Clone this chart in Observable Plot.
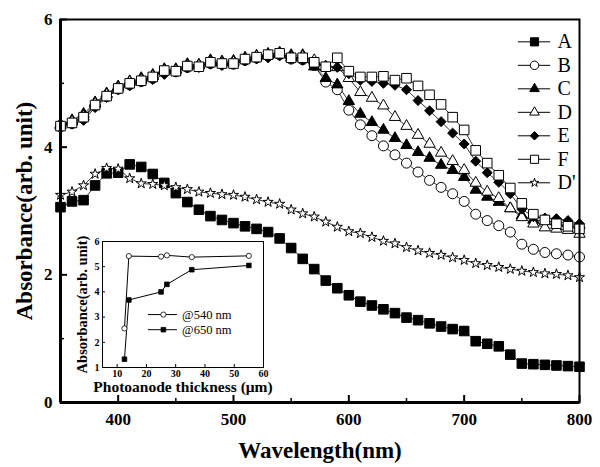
<!DOCTYPE html>
<html><head><meta charset="utf-8">
<script src="https://cdn.jsdelivr.net/npm/d3@7"></script>
<script src="https://cdn.jsdelivr.net/npm/@observablehq/plot@0.6"></script>
<style>
body{margin:0;background:#fff}
#wrap{position:relative;width:600px;height:467px;overflow:hidden;background:#fff}
#inset{position:absolute;left:75px;top:235px}
#wrap svg, #wrap svg text{font-family:"Liberation Serif","DejaVu Serif",serif !important}
</style></head><body><div id="wrap"></div>
<script>
// ---------- data ----------
const wavelengths = [350,360,370,380,390,400,410,420,430,440,450,460,470,480,490,500,510,520,530,540,550,560,570,580,590,600,610,620,630,640,650,660,670,680,690,700,710,720,730,740,750,760,770,780,790,800];
const seriesNames = ["A","B","C","D","E","F","D'"];
const absA = [3.06,3.15,3.17,3.40,3.59,3.60,3.73,3.69,3.58,3.44, 3.28,3.14,3.02,2.92,2.86,2.81,2.76,2.72,2.67,2.57, 2.42,2.25,2.09,1.91,1.79,1.68,1.58,1.52,1.46,1.40, 1.33,1.29,1.24,1.19,1.15,1.12,0.96,0.92,0.88,0.75, 0.61,0.60,0.59,0.58,0.57,0.56];
const absB = [4.32,4.37,4.45,4.65,4.79,4.91,4.98,5.03,5.08,5.18, 5.18,5.25,5.26,5.31,5.30,5.30,5.36,5.40,5.43,5.45, 5.38,5.37,5.28,5.02,4.90,4.58,4.35,4.18,4.02,3.88, 3.75,3.61,3.48,3.37,3.27,3.15,2.95,2.85,2.77,2.67, 2.48,2.40,2.35,2.33,2.31,2.28];
const absC = [4.36,4.42,4.52,4.70,4.84,4.95,5.03,5.08,5.13,5.22, 5.22,5.30,5.29,5.36,5.34,5.35,5.40,5.43,5.46,5.48, 5.44,5.44,5.26,5.08,4.98,4.72,4.52,4.39,4.27,4.14, 4.03,3.92,3.83,3.72,3.64,3.53,3.33,3.22,3.14,3.04, 2.93,2.86,2.84,2.83,2.81,2.78];
const absD = [4.34,4.40,4.48,4.68,4.82,4.93,5.02,5.05,5.11,5.20, 5.20,5.27,5.28,5.33,5.32,5.33,5.38,5.42,5.44,5.46, 5.40,5.42,5.36,5.25,5.25,5.08,4.86,4.77,4.65,4.47, 4.33,4.19,4.05,3.91,3.78,3.64,3.44,3.30,3.20,3.04, 2.90,2.80,2.74,2.72,2.70,2.64];
const absE = [4.30,4.36,4.42,4.62,4.78,4.90,4.96,5.02,5.06,5.14, 5.18,5.24,5.25,5.30,5.28,5.30,5.35,5.38,5.40,5.43, 5.38,5.36,5.30,5.28,5.25,5.15,5.05,5.03,5.00,4.97, 4.90,4.73,4.57,4.40,4.22,4.05,3.78,3.60,3.45,3.27, 3.03,2.91,2.89,2.88,2.85,2.80];
const absF = [4.33,4.38,4.47,4.66,4.80,4.92,5.00,5.04,5.10,5.20, 5.19,5.27,5.26,5.33,5.31,5.31,5.38,5.41,5.45,5.47, 5.40,5.40,5.33,5.26,5.40,5.19,5.10,5.10,5.11,5.05, 5.08,4.96,4.82,4.67,4.47,4.27,3.95,3.75,3.56,3.36, 3.12,2.95,2.86,2.80,2.76,2.72];
const absDp = [3.25,3.30,3.40,3.58,3.67,3.66,3.51,3.43,3.42,3.40, 3.37,3.34,3.30,3.28,3.26,3.25,3.22,3.18,3.14,3.11, 3.02,2.96,2.91,2.83,2.75,2.68,2.65,2.59,2.53,2.49, 2.43,2.38,2.34,2.31,2.27,2.23,2.18,2.15,2.12,2.09, 2.06,2.04,2.02,2.01,1.99,1.96];
const xTicks = [400,500,600,700,800];
const xMinorTicks = [450,550,650,750];
const yTicks = [0,2,4,6];
const yMinorTicks = [1,3,5];

// inset data
const thickness = [12.5,14,25,27,35.5,55];
const abs540 = [2.55,5.42,5.40,5.45,5.38,5.43];
const abs650 = [1.33,3.68,4.00,4.30,4.88,5.05];
const insetNames = ["@540 nm","@650 nm"];
const insetXTicks = [10,20,30,40,50,60];
const insetYTicks = [1,2,3,4,5,6];

// ---------- build tables ----------
const seriesValues = {"A":absA,"B":absB,"C":absC,"D":absD,"E":absE,"F":absF,"D'":absDp};
const rows = [];
for (const s of seriesNames) seriesValues[s].forEach((v,i)=>rows.push({series:s, wl:wavelengths[i], abs:v}));

const FONT = "Liberation Serif";
const styleOf = {
  "A":{symbol:"square", fill:"#000", r:5.4},
  "B":{symbol:"circle", fill:"#fff", r:5.0},
  "C":{symbol:"triangle", fill:"#000", r:4.2},
  "D":{symbol:"triangle", fill:"#fff", r:4.2},
  "E":{symbol:"diamond2", fill:"#000", r:4.5},
  "F":{symbol:"square", fill:"#fff", r:5.4},
  "D'":{symbol:"star", fill:"#fff", r:3.2}
};
const drawOrder = ["A","D'","B","C","D","E","F"];

const W=600,H=467,mL=60,mR=21,mT=19,mB=65;
const frameW=W-mL-mR, frameH=H-mT-mB;

// legend layout (data space)
const legX1=747, legX2=775, legXm=761, legXt=781, legTop=5.65, legStep=0.368;

const marks = [
  Plot.ruleX(xTicks, {insetTop: frameH-7, stroke:"#000", strokeWidth:2}),
  Plot.ruleX(xMinorTicks, {insetTop: frameH-4, stroke:"#000", strokeWidth:1.5}),
  Plot.ruleY(yTicks, {insetRight: frameW-7, stroke:"#000", strokeWidth:2}),
  Plot.ruleY(yMinorTicks, {insetRight: frameW-4, stroke:"#000", strokeWidth:1.5}),
  Plot.axisX({ticks:xTicks, tickSize:0, tickPadding:10, tickFormat:d=>String(d), label:null, fontFamily:FONT, fontSize:17, fontWeight:"bold"}),
  Plot.axisY({ticks:yTicks, tickSize:0, tickPadding:8, tickFormat:d=>String(d), label:null, fontFamily:FONT, fontSize:17, fontWeight:"bold"}),
  Plot.line(rows, {x:"wl", y:"abs", z:"series", stroke:"#000", strokeWidth:0.8})
];
for (const s of drawOrder) {
  const st = styleOf[s];
  marks.push(Plot.dot(rows.filter(d=>d.series===s), {x:"wl", y:"abs", symbol:()=>st.symbol, r:st.r, fill:st.fill, stroke:"#000", strokeWidth:1}));
}
seriesNames.forEach((s,i)=>{
  const st = styleOf[s];
  const y = legTop - i*legStep;
  marks.push(Plot.ruleY([y], {x1:legX1, x2:legX2, stroke:"#000", strokeWidth:1}));
  marks.push(Plot.dot([s], {x:()=>legXm, y:()=>y, symbol:()=>st.symbol, r:st.r*0.85, fill:st.fill, stroke:"#000", strokeWidth:1}));
  marks.push(Plot.text([s], {x:()=>legXt, y:()=>y, text:d=>d, textAnchor:"start", fontFamily:FONT, fontSize:20, fill:"#000"}));
});
marks.push(
  Plot.frame({stroke:"#000", strokeWidth:2}),
  Plot.ruleX([350], {stroke:"#000", strokeWidth:3}),
  Plot.ruleY([0], {stroke:"#000", strokeWidth:3}),
  Plot.text(["Wavelength(nm)"], {frameAnchor:"bottom", dy:48, textAnchor:"middle", lineAnchor:"middle", fontFamily:FONT, fontSize:23, fontWeight:"bold", fill:"#000"}),
  Plot.text(["Absorbance(arb. unit)"], {frameAnchor:"left", dx:-36, rotate:-90, textAnchor:"middle", lineAnchor:"middle", fontFamily:FONT, fontSize:23, fontWeight:"bold", fill:"#000"})
);

const main = Plot.plot({
  width:W, height:H, marginLeft:mL, marginRight:mR, marginTop:mT, marginBottom:mB,
  x:{domain:[350,800]}, y:{domain:[0,6]},
  style:{fontFamily:FONT, background:"#fff", color:"#000"},
  marks
});
document.getElementById("wrap").appendChild(main);

// ---------- inset ----------
const iW=200,iH=165,imL=27,imR=12,imT=6,imB=33;
const ifW=iW-imL-imR, ifH=iH-imT-imB;
const insetRows = [];
thickness.forEach((t,i)=>{ insetRows.push({name:insetNames[0], t, a:abs540[i]}); insetRows.push({name:insetNames[1], t, a:abs650[i]}); });
const insetStyle = {"@540 nm":{symbol:"circle", fill:"#fff", r:2.6}, "@650 nm":{symbol:"square", fill:"#000", r:2.6}};
const iLegX1=20.7, iLegX2=30.6, iLegXm=25.8, iLegXt=32.2, iLegTop=3.1, iLegStep=0.6;
const imarks = [
  Plot.frame({fill:"#fff", stroke:"none"}),
  Plot.ruleX(insetXTicks, {insetTop: ifH-3, stroke:"#000", strokeWidth:1}),
  Plot.ruleY(insetYTicks, {insetRight: ifW-3, stroke:"#000", strokeWidth:1}),
  Plot.axisX({ticks:insetXTicks, tickSize:0, tickPadding:2, tickFormat:d=>String(d), label:null, fontFamily:FONT, fontSize:10, fontWeight:"bold"}),
  Plot.axisY({ticks:insetYTicks, tickSize:0, tickPadding:3, tickFormat:d=>String(d), label:null, fontFamily:FONT, fontSize:10, fontWeight:"bold"}),
  Plot.line(insetRows, {x:"t", y:"a", z:"name", stroke:"#000", strokeWidth:1})
];
for (const n of insetNames) {
  const st = insetStyle[n];
  imarks.push(Plot.dot(insetRows.filter(d=>d.name===n), {x:"t", y:"a", symbol:()=>st.symbol, r:st.r, fill:st.fill, stroke:"#000", strokeWidth:0.8}));
}
insetNames.forEach((n,i)=>{
  const st = insetStyle[n];
  const y = iLegTop - i*iLegStep;
  imarks.push(Plot.ruleY([y], {x1:iLegX1, x2:iLegX2, stroke:"#000", strokeWidth:1}));
  imarks.push(Plot.dot([n], {x:()=>iLegXm, y:()=>y, symbol:()=>st.symbol, r:st.r, fill:st.fill, stroke:"#000", strokeWidth:0.8}));
  imarks.push(Plot.text([n], {x:()=>iLegXt, y:()=>y, text:d=>d, textAnchor:"start", fontFamily:FONT, fontSize:12.5, fill:"#000"}));
});
imarks.push(
  Plot.frame({stroke:"#000", strokeWidth:1}),
  Plot.text(["Photoanode thickness (\u03bcm)"], {frameAnchor:"bottom", dy:20, textAnchor:"middle", lineAnchor:"middle", fontFamily:FONT, fontSize:15.5, fontWeight:"bold", fill:"#000"}),
  Plot.text(["Absorbance(arb. unit)"], {frameAnchor:"left", dx:-20, rotate:-90, textAnchor:"middle", lineAnchor:"middle", fontFamily:FONT, fontSize:14.5, fontWeight:"bold", fill:"#000"})
);
const inset = Plot.plot({
  width:iW, height:iH, marginLeft:imL, marginRight:imR, marginTop:imT, marginBottom:imB,
  x:{domain:[5,60]}, y:{domain:[1,6]},
  style:{fontFamily:FONT, background:"transparent", color:"#000", overflow:"visible"},
  marks: imarks
});
inset.id = "inset";
document.getElementById("wrap").appendChild(inset);
</script></body></html>
